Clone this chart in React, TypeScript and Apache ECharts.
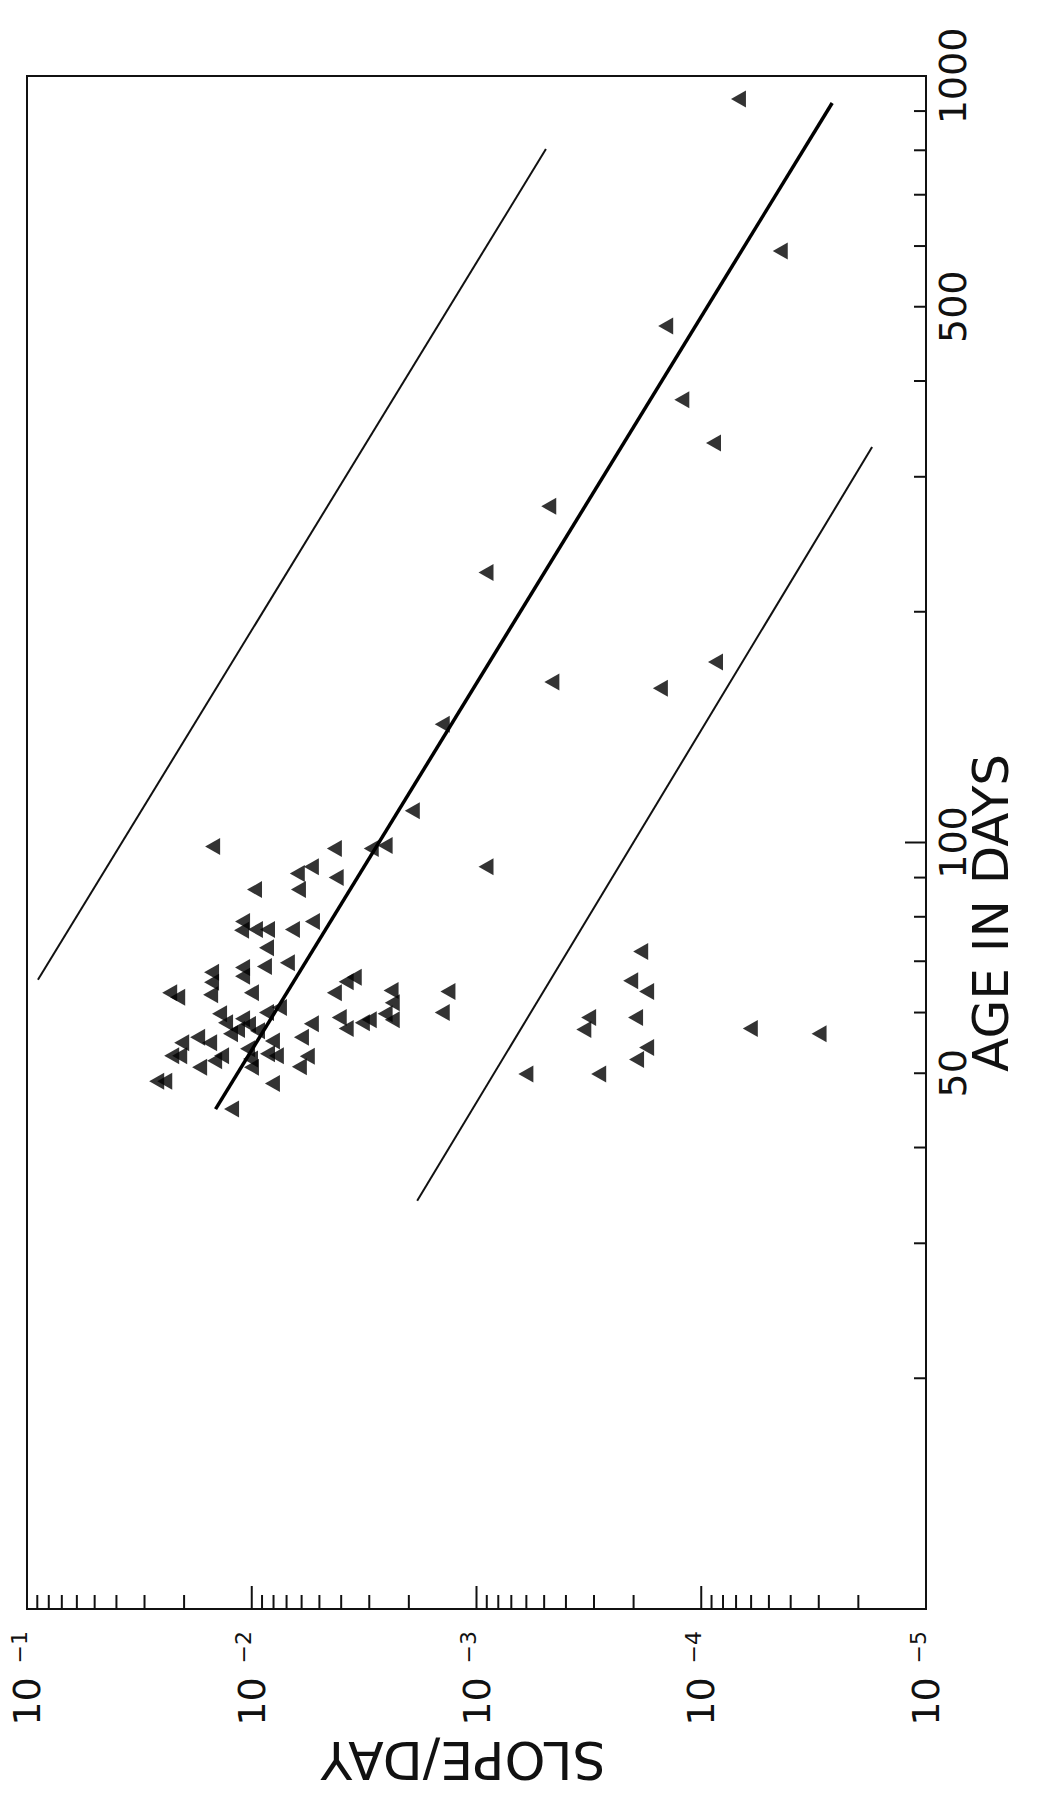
import React, { useEffect, useRef } from "react";
import * as echarts from "echarts";

// ---- axis structure ----
const SLOPE_MIN = 1e-5;
const SLOPE_MAX = 1e-1;
const AGE_MIN = 10;
const AGE_MAX = 1000;

const slopeMajorTicks = [1e-5, 1e-4, 1e-3, 1e-2, 1e-1];
const slopeMinorTicks = [
  2e-5, 3e-5, 4e-5, 5e-5, 6e-5, 7e-5, 8e-5, 9e-5,
  2e-4, 3e-4, 4e-4, 5e-4, 6e-4, 7e-4, 8e-4, 9e-4,
  2e-3, 3e-3, 4e-3, 5e-3, 6e-3, 7e-3, 8e-3, 9e-3,
  2e-2, 3e-2, 4e-2, 5e-2, 6e-2, 7e-2, 8e-2, 9e-2,
];
const ageMajorTicks = [10, 100, 1000];
const ageMinorTicks = [20, 30, 40, 50, 60, 70, 80, 90, 200, 300, 400, 500, 600, 700, 800, 900];
const ageTickLabels = [50, 100, 500, 1000];

// ---- data: [slope per day, age in days] ----
const clusterPoints = [
  [0.01493, 98.8], [0.00429, 98.2], [0.00294, 98.2], [0.00255, 99.1],
  [0.00543, 93.0], [0.00627, 91.1], [0.00421, 90.0], [0.0062, 86.8],
  [0.00972, 86.8], [0.00537, 78.9], [0.01099, 78.9], [0.0111, 76.8],
  [0.00963, 77.0], [0.00851, 77.0], [0.00659, 77.0], [0.0086, 72.9],
  [0.00694, 69.7], [0.00878, 68.9], [0.01099, 68.7], [0.01099, 66.9],
  [0.01509, 67.7], [0.01509, 65.7], [0.01524, 63.3], [0.01003, 63.7],
  [0.02318, 63.7], [0.02136, 62.8], [0.0035, 66.7], [0.0038, 65.8],
  [0.00429, 63.7], [0.0024, 64.1], [0.00237, 61.8], [0.00255, 59.8],
  [0.00237, 58.7], [0.0086, 60.0], [0.00753, 60.9], [0.01391, 59.8],
  [0.01308, 58.2], [0.01243, 56.3], [0.01099, 58.9], [0.01034, 57.9],
  [0.01157, 57.0], [0.00943, 56.8], [0.00543, 58.0], [0.00408, 59.1],
  [0.0038, 57.2], [0.00322, 58.2], [0.003, 58.7], [0.00601, 55.7],
  [0.01741, 55.7], [0.0154, 54.8], [0.0205, 54.8], [0.02271, 52.7],
  [0.02093, 52.7], [0.00809, 55.1], [0.01044, 53.8], [0.01013, 52.2],
  [0.01003, 50.9], [0.00851, 53.0], [0.00777, 52.7], [0.01362, 52.7],
  [0.01463, 51.9], [0.01706, 50.9], [0.00566, 52.6], [0.00614, 51.0],
  [0.02648, 48.8], [0.02439, 48.8], [0.00809, 48.5], [0.0123, 44.9],
];

const scatteredPoints = [
  [6.83e-5, 933], [4.45e-5, 591], [1.44e-4, 472], [1.22e-4, 378],
  [8.82e-5, 332], [4.77e-4, 274.5], [9.07e-4, 225], [4.62e-4, 162],
  [8.64e-5, 172], [1.42e-3, 142.6], [1.52e-4, 159], [1.93e-3, 110],
  [9.07e-4, 93.0], [1.34e-3, 63.9], [1.42e-3, 60.0], [6.03e-4, 49.9],
  [3.17e-4, 59.1], [3.33e-4, 57.0], [2.06e-4, 66.0], [1.86e-4, 72.1],
  [1.75e-4, 63.9], [1.96e-4, 59.1], [1.75e-4, 54.0], [1.94e-4, 52.1],
  [2.86e-4, 49.9], [6.05e-5, 57.2], [2.99e-5, 56.3],
];

const upperLine = [[0.0894, 66.2], [4.91e-4, 803]];
const fitLine = [[0.01449, 44.9], [2.615e-5, 922]];
const lowerLine = [[1.836e-3, 34.1], [1.737e-5, 328]];

const FONT = "DejaVu Sans";
const INK = "#111";

export default function App() {
  const ref = useRef<HTMLDivElement>(null);

  useEffect(() => {
    if (!ref.current) return;
    const chart = echarts.init(ref.current, null, { renderer: "svg" });

    const xTick = (len: number) => (params: any, api: any) => {
      const p = api.coord([api.value(0), AGE_MIN]);
      return {
        type: "line",
        shape: { x1: p[0], y1: p[1], x2: p[0], y2: p[1] - len },
        style: { stroke: INK, lineWidth: 2 },
      };
    };
    const yTick = (len: number) => (params: any, api: any) => {
      const p = api.coord([SLOPE_MIN, api.value(1)]);
      return {
        type: "line",
        shape: { x1: p[0], y1: p[1], x2: p[0] - len, y2: p[1] },
        style: { stroke: INK, lineWidth: 2 },
      };
    };

    const triangle = {
      type: "scatter",
      symbol: "triangle",
      symbolSize: [17, 15],
      symbolRotate: 90,
      itemStyle: { color: "#000" },
      silent: true,
      z: 5,
    };

    const option: any = {
      animation: false,
      backgroundColor: "#ffffff",
      grid: {
        left: 27,
        right: 117,
        top: 76,
        bottom: 187,
        show: true,
        borderColor: INK,
        borderWidth: 2,
        backgroundColor: "transparent",
        containLabel: false,
        outerBoundsMode: "none",
      },
      xAxis: {
        type: "log",
        logBase: 10,
        min: SLOPE_MIN,
        max: SLOPE_MAX,
        inverse: true,
        splitNumber: 4,
        position: "bottom",
        axisLine: { show: true, lineStyle: { color: INK, width: 2 } },
        axisTick: { show: false },
        splitLine: { show: false },
        axisLabel: {
          show: true,
          rotate: 90,
          margin: 22,
          showMinLabel: true,
          showMaxLabel: true,
          formatter: (v: number) => {
            const e = Math.round(Math.log10(v));
            return `{b|10}{e|\u2212${Math.abs(e)}}`;
          },
          rich: {
            b: {
              fontSize: 38,
              fontFamily: FONT,
              color: INK,
              lineHeight: 38,
              padding: [6, 0, 0, 0],
              verticalAlign: "bottom",
            },
            e: {
              fontSize: 22,
              fontFamily: FONT,
              color: INK,
              lineHeight: 22,
              verticalAlign: "top",
              padding: [0, 0, 0, 14],
            },
          },
        },
      },
      yAxis: {
        type: "log",
        logBase: 10,
        min: AGE_MIN,
        max: AGE_MAX,
        position: "right",
        axisLine: { show: true, lineStyle: { color: INK, width: 2 } },
        axisTick: { show: false },
        axisLabel: { show: false },
        splitLine: { show: false },
      },
      graphic: [
        {
          type: "text",
          x: 991,
          y: 913,
          rotation: Math.PI / 2,
          style: {
            text: "AGE IN DAYS",
            fontSize: 50,
            fontFamily: FONT,
            fill: INK,
            align: "center",
            verticalAlign: "middle",
            textAlign: "center",
            textVerticalAlign: "middle",
          },
        },
        {
          type: "text",
          x: 463,
          y: 1760,
          rotation: Math.PI,
          style: {
            text: "SLOPE/DAY",
            fontSize: 52,
            fontFamily: FONT,
            fill: INK,
            align: "center",
            verticalAlign: "middle",
            textAlign: "center",
            textVerticalAlign: "middle",
          },
        },
      ],
      series: [
        {
          type: "custom",
          name: "slope major ticks",
          silent: true,
          data: slopeMajorTicks.map((v) => [v, AGE_MIN]),
          renderItem: xTick(23),
          z: 3,
        },
        {
          type: "custom",
          name: "slope minor ticks",
          silent: true,
          data: slopeMinorTicks.map((v) => [v, AGE_MIN]),
          renderItem: xTick(14),
          z: 3,
        },
        {
          type: "custom",
          name: "age major ticks",
          silent: true,
          data: ageMajorTicks.map((v) => [SLOPE_MIN, v]),
          renderItem: yTick(21),
          z: 3,
        },
        {
          type: "custom",
          name: "age minor ticks",
          silent: true,
          data: ageMinorTicks.map((v) => [SLOPE_MIN, v]),
          renderItem: yTick(12),
          z: 3,
        },
        {
          type: "custom",
          name: "age labels",
          silent: true,
          clip: false,
          data: ageTickLabels.map((v) => [SLOPE_MIN, v]),
          renderItem: (params: any, api: any) => {
            const p = api.coord([SLOPE_MIN, api.value(1)]);
            return {
              type: "text",
              x: p[0] + 27,
              y: p[1],
              rotation: Math.PI / 2,
              style: {
                text: String(api.value(1)),
                fontSize: 38,
                fontFamily: FONT,
                fill: INK,
                align: "center",
                verticalAlign: "middle",
                textAlign: "center",
                textVerticalAlign: "middle",
              },
            };
          },
          z: 3,
        },
        {
          type: "line",
          name: "upper bound",
          data: upperLine,
          showSymbol: false,
          symbol: "none",
          lineStyle: { color: INK, width: 2 },
          silent: true,
        },
        {
          type: "line",
          name: "fit",
          data: fitLine,
          showSymbol: false,
          symbol: "none",
          lineStyle: { color: "#000", width: 3.5 },
          silent: true,
        },
        {
          type: "line",
          name: "lower bound",
          data: lowerLine,
          showSymbol: false,
          symbol: "none",
          lineStyle: { color: INK, width: 2 },
          silent: true,
        },
        { ...triangle, name: "cluster", data: clusterPoints },
        { ...triangle, name: "scattered", data: scatteredPoints },
      ],
    };

    chart.setOption(option);
    return () => chart.dispose();
  }, []);

  return (
    <div
      ref={ref}
      style={{
        position: "fixed",
        left: 0,
        top: 0,
        width: 1043,
        height: 1796,
        background: "#ffffff",
      }}
    />
  );
}
